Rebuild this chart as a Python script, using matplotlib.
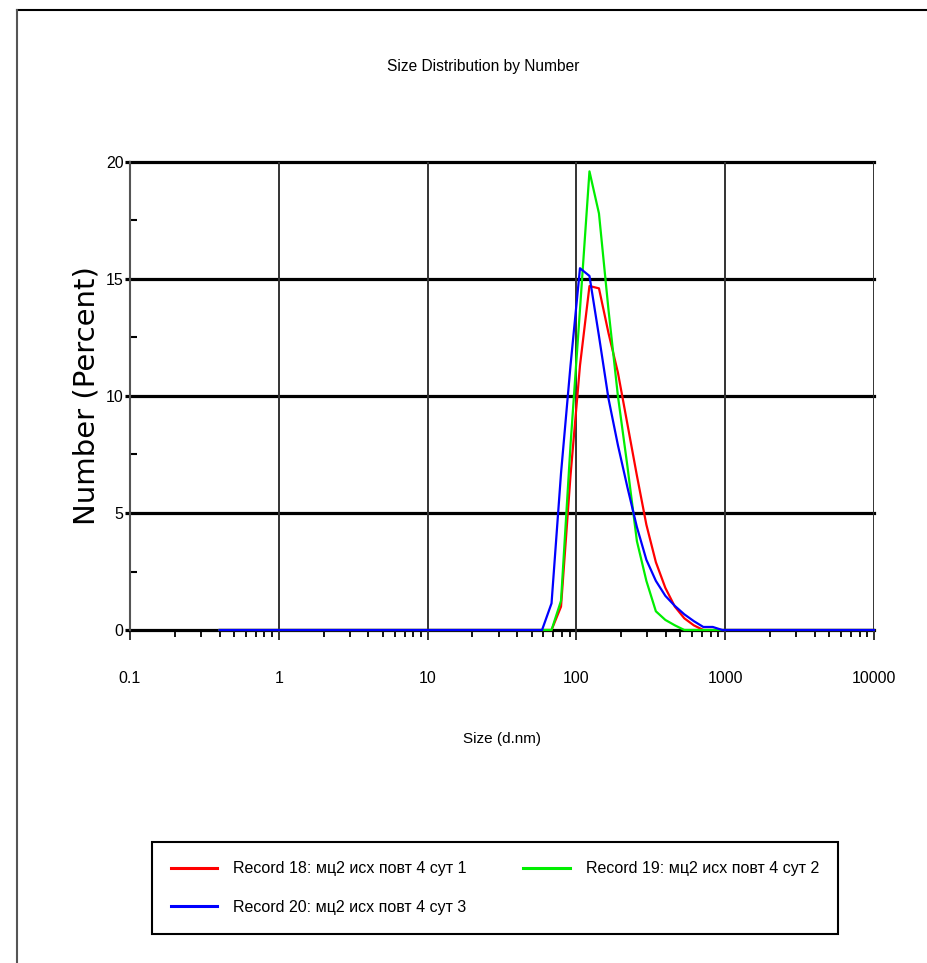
import matplotlib
matplotlib.use("Agg")
import matplotlib.pyplot as plt
from matplotlib.lines import Line2D
from matplotlib.ticker import FixedLocator, NullFormatter
from matplotlib.font_manager import FontProperties

# Zetasizer size classes (d.nm)
sizes = [0.4, 0.4632, 0.5365, 0.6213, 0.7195, 0.8332, 0.9649, 1.117, 1.294, 1.499,
         1.736, 2.010, 2.328, 2.696, 3.122, 3.615, 4.187, 4.849, 5.615, 6.503,
         7.531, 8.721, 10.10, 11.70, 13.54, 15.69, 18.17, 21.04, 24.36, 28.21,
         32.67, 37.84, 43.82, 50.75, 58.77, 68.06, 78.82, 91.28, 105.7, 122.4,
         141.8, 164.2, 190.1, 220.2, 255.0, 295.3, 342.0, 396.1, 458.7, 531.2,
         615.1, 712.4, 825.0, 955.4, 1106, 1281, 1484, 1718, 1990, 2305,
         2669, 3091, 3580, 4145, 4801, 5560, 6439, 7456, 8635, 10000]

# number %, classes 68.06 .. 955.4 are listed, the rest are zero
rec18 = [0.0] * 35 + [0, 1.0, 6.6, 11.3, 14.7, 14.6, 12.7, 11.0, 8.8, 6.6,
                      4.5, 2.9, 1.8, 1.0, 0.5, 0.2, 0, 0, 0] + [0.0] * 16
rec19 = [0.0] * 35 + [0, 1.25, 7.9, 13.7, 19.6, 17.8, 13.7, 10.0, 7.0, 3.8,
                      2.1, 0.8, 0.43, 0.2, 0, 0, 0, 0, 0] + [0.0] * 16
rec20 = [0.0] * 35 + [1.14, 6.7, 11.3, 15.46, 15.13, 12.56, 9.9, 7.9, 6.1, 4.4,
                      3.0, 2.1, 1.46, 1.03, 0.67, 0.38, 0.13, 0.13, 0] + [0.0] * 16

labels = ["Record 18: мц2 исх повт 4 сут 1",
          "Record 19: мц2 исх повт 4 сут 2",
          "Record 20: мц2 исх повт 4 сут 3"]
xtick_vals = [0.1, 1, 10, 100, 1000, 10000]
xtick_text = ["0.1", "1", "10", "100", "1000", "10000"]
ytick_vals = [0, 5, 10, 15, 20]

NARROW = ["Liberation Sans", "DejaVu Sans"]

fig = plt.figure(figsize=(9.28, 9.63), dpi=100)
ax = fig.add_axes([130/928, 333/963, 744/928, 468/963])

l18, = ax.plot(sizes, rec18, color="#ff0000", lw=1.6, clip_on=False, zorder=3)
l19, = ax.plot(sizes, rec19, color="#00ee00", lw=1.6, clip_on=False, zorder=3)
l20, = ax.plot(sizes, rec20, color="#0000ff", lw=1.6, clip_on=False, zorder=3)

ax.set_xscale("log")
ax.set_xlim(0.1, 10000)
ax.set_ylim(0, 20)

for s in ["top", "right", "bottom"]:
    ax.spines[s].set_visible(False)
ax.spines["left"].set_color("#555555")
ax.spines["left"].set_linewidth(1.5)

for y in ytick_vals:
    ax.axhline(y, color="black", lw=2.3, clip_on=False, zorder=1)

ax.set_xticks(xtick_vals, labels=xtick_text)
ax.xaxis.set_minor_locator(FixedLocator([k * 10.0**d for d in range(-1, 4) for k in range(2, 10)]))
ax.xaxis.set_minor_formatter(NullFormatter())
ax.grid(axis="x", which="major", color="#333333", lw=1.4, zorder=1)
ax.tick_params(axis="x", which="major", direction="out", length=7.5, width=1.4,
               color="#333333", pad=22)
ax.tick_params(axis="x", which="minor", direction="out", length=5, width=1.3, color="black")

ax.set_yticks(ytick_vals)
ax.yaxis.set_minor_locator(FixedLocator([2.5, 7.5, 12.5, 17.5]))
ax.tick_params(axis="y", which="major", direction="out", length=3.5, width=2.3,
               color="black", pad=1)
ax.tick_params(axis="y", which="minor", direction="in", length=5, width=1.5, color="black")

for lab in ax.get_xticklabels() + ax.get_yticklabels():
    lab.set_fontfamily(NARROW)
    lab.set_fontsize(11.5)

ax.set_ylabel("Number (Percent)", fontsize=21, family="DejaVu Sans")
ax.yaxis.set_label_coords((101 - 130) / 744, 0.5)
ax.set_xlabel("Size (d.nm)", fontsize=11, family=NARROW)
ax.xaxis.set_label_coords(0.5, -(732 - 630) / 468)

fig.text(483.5/928, 1 - 67/963, "Size Distribution by Number", ha="center", va="center",
         fontsize=11.2, family=NARROW)

# page frame
fig.add_artist(Line2D([17/928, 1], [1 - 10/963, 1 - 10/963], color="black", lw=1.5,
                      transform=fig.transFigure))
fig.add_artist(Line2D([17/928, 17/928], [0, 1 - 10/963], color="#555555", lw=1.5,
                      transform=fig.transFigure))

leg = fig.legend([l18, l20, l19], [labels[0], labels[2], labels[1]],
                 loc="upper left", bbox_to_anchor=(152/928, 1 - 937/963, 686/928, 95/963),
                 bbox_transform=fig.transFigure, ncol=2, mode="expand", fancybox=False,
                 edgecolor="black", framealpha=1,
                 prop=FontProperties(family=NARROW, size=11.5),
                 handlelength=2.9, handletextpad=1.0, columnspacing=2.0,
                 labelspacing=1.48, borderpad=1.2, borderaxespad=0)
leg.get_frame().set_linewidth(1.5)
for h in leg.legend_handles:
    h.set_linewidth(2.2)

fig.savefig("out.png", dpi=100)
